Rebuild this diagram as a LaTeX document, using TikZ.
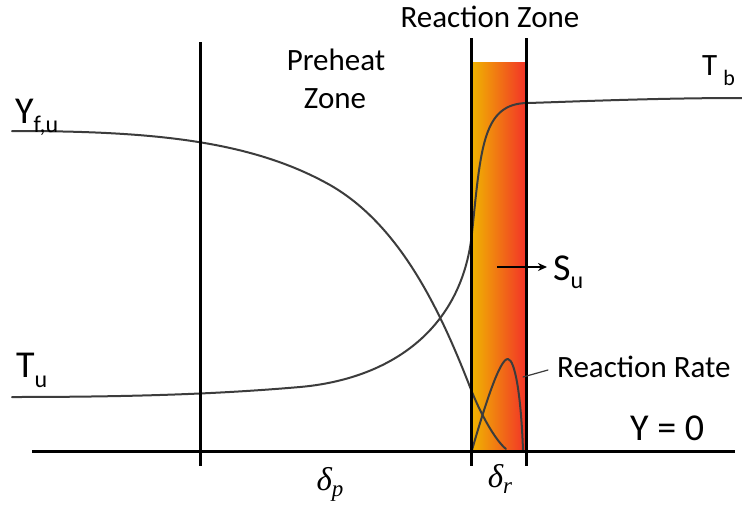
\documentclass[tikz,border=0pt]{standalone}
\usepackage{fontspec}
\setmainfont{Carlito}
\newfontfamily\greekfont{Liberation Serif}
\usetikzlibrary{arrows.meta}
\definecolor{curvecol}{RGB}{60,60,60}
\definecolor{zoneL}{RGB}{240,182,0}
\definecolor{zoneM}{RGB}{245,122,25}
\definecolor{zoneR}{RGB}{242,50,40}
\begin{document}
\begin{tikzpicture}[x=1pt,y=-1pt,
  axisline/.style={line width=3pt,black},
  curveline/.style={line width=2pt,curvecol,line cap=round,line join=round},
  lbl/.style={inner sep=0pt,anchor=base west,font=\fontsize{31}{36}\selectfont},
  biglbl/.style={inner sep=0pt,anchor=base west,font=\fontsize{38}{44}\selectfont},
  ctrlbl/.style={inner sep=0pt,anchor=base,font=\fontsize{31}{36}\selectfont},
  mathlbl/.style={inner sep=0pt,anchor=base,font=\greekfont\itshape\fontsize{33}{38}\selectfont}]
\useasboundingbox[fill=white] (0,0) rectangle (742,504);

% reaction zone fill
\shade[left color=zoneL, middle color=zoneM, right color=zoneR] (471,62) rectangle (526,451);

% fuel mass fraction
\draw[curveline] (12,131) .. controls (150,131) and (250,140) .. (330,185)
  .. controls (400,225) and (440,310) .. (470,387)
  .. controls (480,413) and (495,440) .. (506,449);
% temperature
\draw[curveline] (12,397) .. controls (150,397) and (230,393) .. (300,387)
  .. controls (390,379) and (462,330) .. (472,233)
  .. controls (481,146) and (483,104) .. (527,103)
  .. controls (560,102.2) and (650,98) .. (742,98);
% reaction rate
\draw[curveline] (472,450) .. controls (485,405) and (500,358) .. (508,359)
  .. controls (515,360) and (521,395) .. (523,450);

% axes
\draw[axisline] (32,451) -- (735,451);
\draw[axisline] (200,42) -- (200,466);
\draw[axisline] (471,38) -- (471,466);
\draw[axisline] (526,38) -- (526,466);

% labels
\node[ctrlbl] (rz) at (490,27) {Reaction Zone};
\node[ctrlbl] (pre) at (336,70) {Preheat};
\node[ctrlbl] (zn) at (335,108) {Zone};
\node[lbl] (tb) at (702,75) {T\hspace{6pt}\raisebox{-10pt}{\fontsize{22}{22}\selectfont b}};
\node[biglbl] (yfu) at (15,123) {Y\raisebox{-9pt}{\fontsize{24}{24}\selectfont f,u}};
\node[biglbl] (tu) at (16,377) {T\raisebox{-10pt}{\fontsize{24}{24}\selectfont u}};
\node[biglbl] (su) at (553,280) {S\raisebox{-8pt}{\fontsize{24}{24}\selectfont u}};
\node[lbl] (rr) at (557,377) {Reaction Rate};
\node[biglbl] (y0) at (630,440) {Y = 0};
\node[mathlbl] (dp) at (330,490) {δ\raisebox{-6pt}{\fontsize{23}{23}\selectfont p}};
\node[mathlbl] (dr) at (500,487) {δ\raisebox{-6pt}{\fontsize{23}{23}\selectfont r}};

% pointer and arrow
\coordinate (rrtip) at (523,377);
\draw[curveline,line width=1.2pt] (rrtip) -- ([xshift=-9pt]rr.base west |- 0,370);
\coordinate (sustart) at (497,267);
\draw[line width=2pt,-{Stealth[length=9pt,width=8pt]}] (sustart) -- ([xshift=-6pt]su.west |- sustart);
\end{tikzpicture}
\end{document}
